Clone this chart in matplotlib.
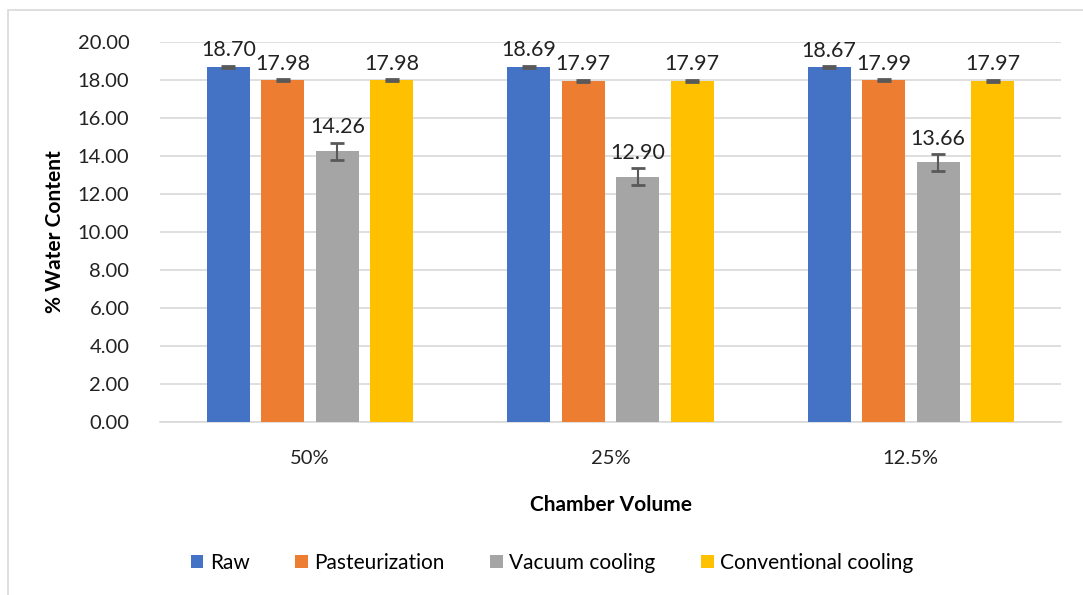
import matplotlib
matplotlib.use("Agg")
import matplotlib.pyplot as plt
import numpy as np
from matplotlib.patches import Rectangle

categories = ["50%", "25%", "12.5%"]
series = ["Raw", "Pasteurization", "Vacuum cooling", "Conventional cooling"]
raw = [18.70, 18.69, 18.67]
pasteurization = [17.98, 17.97, 17.99]
vacuum = [14.26, 12.90, 13.66]
conventional = [17.98, 17.97, 17.97]
raw_err = [0.05, 0.05, 0.05]
past_err = [0.05, 0.05, 0.05]
vac_err = [0.45, 0.45, 0.43]
conv_err = [0.05, 0.05, 0.05]
yticks = [0, 2, 4, 6, 8, 10, 12, 14, 16, 18, 20]

colors = ["#4472C4", "#ED7D31", "#A5A5A5", "#FFC000"]
plt.rcParams['font.family'] = ['Lato', 'DejaVu Sans']

fig = plt.figure(figsize=(10.83, 5.95), dpi=100)
W, H = 1083, 595
ax = fig.add_axes([160 / W, 1 - 422 / H, (1061 - 160) / W, (422 - 42) / H])

# outer border
fig.patches.append(Rectangle((8 / W, -0.1), 1.2, 1 - 10 / H + 0.1, transform=fig.transFigure,
                             fill=False, edgecolor="#D9D9D9", linewidth=1.2))

x = np.arange(len(categories))
width = 0.143
step = 0.1815
data = [raw, pasteurization, vacuum, conventional]
errs = [raw_err, past_err, vac_err, conv_err]
for i, (vals, er) in enumerate(zip(data, errs)):
    pos = x + (i - 1.5) * step
    ax.bar(pos, vals, width, color=colors[i], label=series[i], zorder=3)
    ax.errorbar(pos, vals, yerr=er, fmt='none', ecolor="#595959", elinewidth=1.5,
                capsize=5, capthick=2, zorder=4)
    for p, v, e in zip(pos, vals, er):
        ax.annotate(f"{v:.2f}", (p, v + e), xytext=(0, 4), textcoords="offset points",
                    ha="center", va="bottom", fontsize=15.5, color="#222222", zorder=5)

ax.set_xlim(-0.5, 2.5)
ax.set_ylim(0, 20)
ax.set_yticks(yticks)
ax.set_yticklabels([f"{t:.2f}" for t in yticks])
ax.set_xticks(x)
ax.set_xticklabels(categories)
ax.yaxis.grid(True, color="#D9D9D9", linewidth=1.2, zorder=0)
ax.set_axisbelow(True)
for s in ["left", "right", "top"]:
    ax.spines[s].set_visible(False)
ax.spines["bottom"].set_color("#D9D9D9")
ax.spines["bottom"].set_linewidth(1.2)
ax.tick_params(axis="both", length=0, labelsize=14.5, colors="#222222")
ax.tick_params(axis="y", pad=22)
ax.tick_params(axis="x", pad=20)
ax.set_ylabel("% Water Content", fontsize=15, fontweight="bold", labelpad=9)
ax.set_xlabel("Chamber Volume", fontsize=15, fontweight="bold", labelpad=20)

fig.legend(loc="center", bbox_to_anchor=(552 / W, 1 - 563 / H), ncol=4, frameon=False,
           fontsize=15, handlelength=0.6, handleheight=0.6, handletextpad=0.3, columnspacing=2.2)

fig.savefig("out.png", dpi=100)
